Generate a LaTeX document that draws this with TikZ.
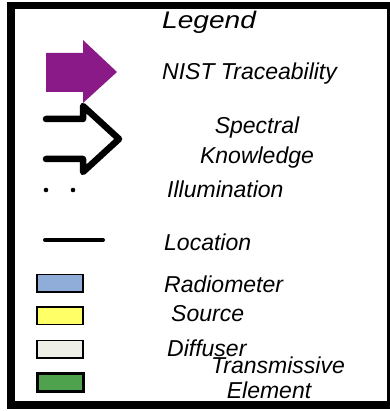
\documentclass[tikz,border=0pt]{standalone}
\usepackage{fontspec}
\setmainfont{Liberation Sans}
\usepackage{graphicx}
\usetikzlibrary{positioning}

\definecolor{nistpurple}{RGB}{139,26,137}
\definecolor{radioblue}{RGB}{143,173,216}
\definecolor{srcyellow}{RGB}{255,255,102}
\definecolor{diffcream}{RGB}{238,239,230}
\definecolor{transgreen}{RGB}{78,162,78}

\tikzset{
  lbl/.style={inner sep=0pt, anchor=base west, font=\fontsize{23}{26}\selectfont\itshape},
  clbl/.style={lbl, anchor=base},
  swatch/.style={draw=black, line width=1.5pt, minimum width=46pt, minimum height=17.5pt, inner sep=0pt},
}

\begin{document}
\begin{tikzpicture}[x=1pt,y=-1pt]
		\useasboundingbox (0,0) rectangle (389,411);
		\draw[line width=7.5pt] (11,5.5) rectangle (391,405);
		% symbols
		\fill[nistpurple] (46,53) -- (83,53) -- (83,40) -- (117,72) -- (83,103) -- (83,92) -- (46,92) -- cycle;
		\draw[line width=6.5pt, line cap=round, line join=round] (46,119) -- (83,119) -- (83,106) -- (119,139) -- (83,172) -- (83,159) -- (46,159);
		\fill (46,190) circle (2.3);
		\fill (73,190) circle (2.3);
		\draw[line width=4pt, line cap=round] (45,240) -- (103,240);
		\node (sw1) [swatch, fill=radioblue] at (60,283) {};
		\node (sw2) [swatch, fill=srcyellow] at (60,315.5) {};
		\node (sw3) [swatch, fill=diffcream] at (60,349) {};
		\node (sw4) [swatch, fill=transgreen, line width=3pt, minimum height=18.5pt] at (60,382.5) {};
		% labels
		\node (ttl) [lbl, font=\fontsize{24}{26}\selectfont\itshape] at (162,29) {\scalebox{1.17}[1]{Legend}};
		\node (lb1) [lbl] at (162,80) {NIST Traceability};
		\node (lb2a) [clbl] at (257,134) {Spectral};
		\node (lb2b) [clbl] at (257,163.3) {Knowledge};
		\node (lb3) [lbl] at (167,197.3) {Illumination};
		\node (lb4) [lbl] at (164,250) {Location};
		\node (lb5) [lbl] at (164,292.3) {Radiometer};
		\node (lb6) [lbl] at (171,321) {Source};
		\node (lb7) [lbl] at (167,356.7) {Diffuser};
		\node (lb8a) [clbl] at (278,373.3) {Transmissive};
		\node (lb8b) [clbl] at (269,398.3) {Element};
\end{tikzpicture}
\end{document}
